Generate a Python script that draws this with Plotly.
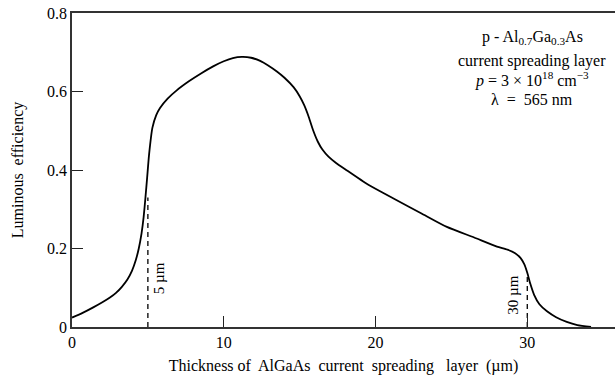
import plotly.graph_objects as go

# Curve data (thickness in µm, luminous efficiency)
thickness = [0, 0.7, 1.4, 2.0, 2.5, 2.9, 3.3, 3.65, 3.95, 4.2, 4.4, 4.58, 4.72, 4.84, 4.95,
             5.08, 5.3, 5.55, 5.8, 6.3, 6.9, 7.7, 8.5, 9.3, 10.0, 10.6, 11.2, 11.8, 12.4,
             12.9, 13.5, 14.0, 14.6, 15.0, 15.3, 15.6, 15.9, 16.2, 16.5, 16.9, 17.4, 18.0,
             19.5, 21.4, 23.0, 24.7, 26.5, 28.0, 28.7, 29.2, 29.55, 29.8, 30.0, 30.2, 30.45,
             30.8, 31.3, 31.9, 32.6, 33.3, 34.2]
efficiency = [0.024, 0.036, 0.05, 0.063, 0.075, 0.087, 0.103, 0.121, 0.143, 0.17, 0.2,
              0.238, 0.28, 0.33, 0.38, 0.44, 0.508, 0.54, 0.558, 0.582, 0.603, 0.626,
              0.646, 0.664, 0.677, 0.685, 0.688, 0.686, 0.678, 0.667, 0.651, 0.635, 0.611,
              0.588, 0.565, 0.535, 0.5, 0.472, 0.452, 0.434, 0.418, 0.402, 0.363, 0.323,
              0.29, 0.255, 0.228, 0.205, 0.197, 0.188, 0.176, 0.16, 0.138, 0.11, 0.082,
              0.058, 0.04, 0.025, 0.013, 0.005, 0.0]

# Marker lines
marker_x = [5, 30]
marker_top = [0.33, 0.13]
marker_labels = ["5 µm", "30 µm"]

x_ticks = [0, 10, 20, 30]
y_ticks = [0, 0.2, 0.4, 0.6, 0.8]
y_tick_text = ["0", "0.2", "0.4", "0.6", "0.8"]

FONT = "Liberation Serif, Times New Roman, serif"

fig = go.Figure()
fig.add_trace(go.Scatter(x=thickness, y=efficiency, mode="lines",
                         line=dict(color="black", width=1.8, shape="spline", smoothing=0.6),
                         showlegend=False, hoverinfo="skip"))
for mx, mt in zip(marker_x, marker_top):
    fig.add_trace(go.Scatter(x=[mx, mx], y=[0, mt], mode="lines",
                             line=dict(color="black", width=1.3, dash="5px,4px"),
                             showlegend=False, hoverinfo="skip"))

fig.add_annotation(x=5.75, y=0.125, text=marker_labels[0], textangle=-90, showarrow=False,
                   font=dict(family=FONT, size=15, color="black"))
fig.add_annotation(x=29.0, y=0.08, text=marker_labels[1], textangle=-90, showarrow=False,
                   font=dict(family=FONT, size=15, color="black"))

lines = ["p - Al<sub>0.7</sub>Ga<sub>0.3</sub>As",
         "current spreading layer",
         "<i>p</i> = 3 × 10<sup>18</sup> cm<sup>−3</sup>",
         "λ  =  565 nm"]
ys = [38, 61, 80, 100]
for t, yy in zip(lines, ys):
    fig.add_annotation(xref="paper", yref="paper", x=(532 - 71.5) / (615 - 71.5),
                       y=(326.7 - yy) / (326.7 - 13.3), text=t, showarrow=False,
                       xanchor="center", yanchor="middle",
                       font=dict(family=FONT, size=16, color="black"))

fig.update_layout(
    width=615, height=377,
    margin=dict(l=71.5, r=0, t=13.3, b=50.3),
    paper_bgcolor="white", plot_bgcolor="white",
    font=dict(family=FONT, size=16, color="black"),
    xaxis=dict(range=[0, 35.78], tickvals=x_ticks, ticks="inside", ticklen=11,
               tickcolor="#222", tickwidth=1.3, showline=True, linecolor="#333",
               linewidth=1.5, mirror=True, showgrid=False, zeroline=False,
               automargin=False,
               title=dict(text="Thickness of  AlGaAs  current  spreading   layer  (µm)",
                          font=dict(family=FONT, size=16), standoff=10),
               tickfont=dict(family=FONT, size=16)),
    yaxis=dict(range=[0, 0.8], tickvals=y_ticks, ticktext=y_tick_text, ticks="inside",
               ticklen=11, tickcolor="#222", tickwidth=1.3, showline=True,
               linecolor="#333", linewidth=1.5, showgrid=False, zeroline=False,
               automargin=False,
               title=dict(text="Luminous  efficiency", font=dict(family=FONT, size=16),
                          standoff=19),
               tickfont=dict(family=FONT, size=16)),
)

fig.write_html("out.html", config={"displayModeBar": False},
               post_script="document.body.style.margin='0';document.body.style.padding='0';")
